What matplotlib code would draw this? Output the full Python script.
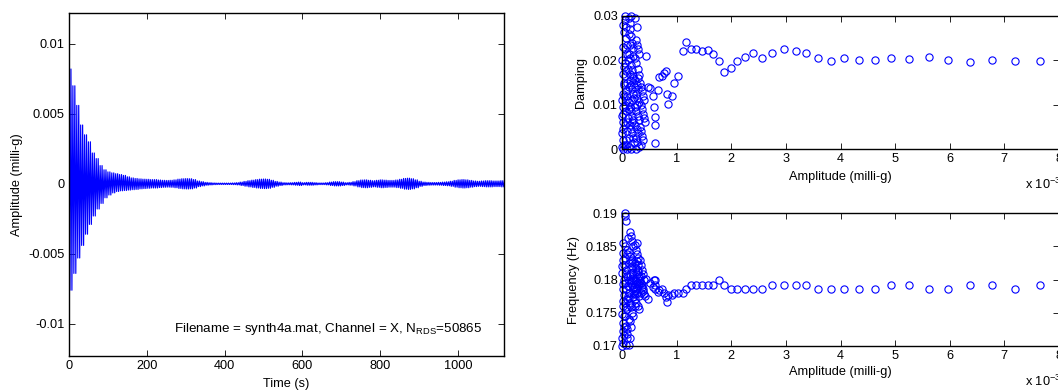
import numpy as np
import matplotlib
matplotlib.use("Agg")
import matplotlib.pyplot as plt

plt.rcParams['font.family'] = ['Liberation Sans', 'DejaVu Sans']
plt.rcParams['font.size'] = 9.2
plt.rcParams['mathtext.fontset'] = 'custom'
plt.rcParams['mathtext.rm'] = 'Liberation Sans'

# Señal en el tiempo: envolvente superior e inferior leída cada 10 s
t_env = np.arange(0, 1121, 10)
env_upper = np.array([
    8.2, 7.0, 5.6, 4.2, 3.5, 3.0, 2.2, 1.8, 1.3, 1.0,
    0.85, 0.78, 0.72, 0.66, 0.6, 0.5, 0.42, 0.38, 0.35, 0.33,
    0.32, 0.3, 0.3, 0.27, 0.25, 0.24, 0.25, 0.28, 0.33, 0.36,
    0.37, 0.36, 0.3, 0.2, 0.15, 0.1, 0.08, 0.06, 0.05, 0.05,
    0.05, 0.05, 0.06, 0.08, 0.12, 0.17, 0.22, 0.26, 0.3, 0.33,
    0.34, 0.32, 0.25, 0.17, 0.12, 0.08, 0.07, 0.08, 0.1, 0.12,
    0.08, 0.1, 0.1, 0.08, 0.06, 0.06, 0.08, 0.12, 0.15, 0.15,
    0.12, 0.08, 0.1, 0.15, 0.22, 0.27, 0.28, 0.25, 0.22, 0.25,
    0.28, 0.26, 0.24, 0.24, 0.27, 0.32, 0.38, 0.4, 0.36, 0.28,
    0.18, 0.12, 0.1, 0.09, 0.09, 0.1, 0.12, 0.14, 0.18, 0.24,
    0.28, 0.3, 0.28, 0.24, 0.2, 0.18, 0.2, 0.22, 0.22, 0.2,
    0.2, 0.22, 0.2]) * 1e-3
env_lower = -np.array([
    7.6, 6.4, 5.3, 4.4, 3.6, 2.9, 2.3, 1.8, 1.4, 1.0,
    0.8, 0.65, 0.55, 0.5, 0.48, 0.45, 0.42, 0.4, 0.36, 0.34,
    0.32, 0.3, 0.3, 0.27, 0.25, 0.24, 0.25, 0.28, 0.33, 0.36,
    0.37, 0.36, 0.3, 0.2, 0.15, 0.1, 0.08, 0.06, 0.05, 0.05,
    0.05, 0.05, 0.06, 0.08, 0.12, 0.17, 0.22, 0.26, 0.3, 0.33,
    0.34, 0.32, 0.25, 0.17, 0.12, 0.08, 0.07, 0.08, 0.1, 0.12,
    0.08, 0.1, 0.1, 0.08, 0.06, 0.06, 0.08, 0.12, 0.15, 0.15,
    0.12, 0.08, 0.1, 0.15, 0.22, 0.27, 0.28, 0.25, 0.22, 0.25,
    0.28, 0.26, 0.24, 0.24, 0.27, 0.32, 0.38, 0.4, 0.36, 0.28,
    0.18, 0.12, 0.1, 0.09, 0.09, 0.1, 0.12, 0.14, 0.18, 0.24,
    0.28, 0.3, 0.28, 0.24, 0.2, 0.18, 0.2, 0.22, 0.22, 0.2,
    0.2, 0.22, 0.2]) * 1e-3

# Modos identificados: amplitud (x 10^-3 milli-g), amortiguamiento, frecuencia
amplitude = [
    0.00, 0.01, 0.00, 0.02, 0.01, 0.00, 0.02, 0.01, 0.00, 0.02,
    0.01, 0.03, 0.02, 0.03, 0.00, 0.01, 0.03, 0.02, 0.04, 0.03,
    0.05, 0.06, 0.08, 0.07, 0.09, 0.10, 0.05, 0.11, 0.06, 0.09,
    0.12, 0.07, 0.10, 0.05, 0.08, 0.11, 0.06, 0.09, 0.12, 0.07,
    0.10, 0.08, 0.11, 0.06, 0.12, 0.09, 0.04, 0.10, 0.07, 0.12,
    0.13, 0.15, 0.17, 0.14, 0.16, 0.18, 0.20, 0.13, 0.15, 0.17,
    0.19, 0.21, 0.14, 0.16, 0.18, 0.20, 0.22, 0.13, 0.15, 0.17,
    0.19, 0.21, 0.14, 0.16, 0.18, 0.20, 0.22, 0.13, 0.17, 0.19,
    0.15, 0.21, 0.18, 0.14, 0.20,
    0.24, 0.27, 0.25, 0.28, 0.30, 0.23, 0.26, 0.29, 0.31, 0.24,
    0.27, 0.30, 0.25, 0.28, 0.32, 0.23, 0.26, 0.29, 0.31, 0.24,
    0.27, 0.30, 0.25, 0.28, 0.32, 0.26, 0.29, 0.31, 0.23, 0.27,
    0.33, 0.35, 0.37, 0.39, 0.41, 0.34, 0.36, 0.38, 0.40, 0.42,
    0.33, 0.35, 0.37, 0.39, 0.34,
    0.44, 0.47, 0.52, 0.57, 0.58, 0.61, 0.60, 0.60, 0.65, 0.68,
    0.73, 0.76, 0.81, 0.82, 0.85, 0.91, 0.96, 1.02,
    1.11, 1.18, 1.27, 1.36, 1.46, 1.58, 1.67, 1.78, 1.87, 1.99,
    2.11, 2.25, 2.40, 2.57, 2.75, 2.96, 3.18, 3.37, 3.58, 3.82,
    4.07, 4.34, 4.64, 4.93, 5.26, 5.62, 5.97, 6.37, 6.77, 7.20,
    7.66]
damping = [
    0.0005, 0.0020, 0.0035, 0.0060, 0.0080, 0.0110, 0.0125, 0.0170, 0.0200, 0.0230,
    0.0280, 0.0010, 0.0095, 0.0150, 0.0075, 0.0045, 0.0185, 0.0000, 0.0265, 0.0120,
    0.0300, 0.0290, 0.0275, 0.0250, 0.0235, 0.0215, 0.0195, 0.0180, 0.0165, 0.0150,
    0.0140, 0.0130, 0.0110, 0.0100, 0.0085, 0.0070, 0.0055, 0.0040, 0.0025, 0.0010,
    0.0000, 0.0020, 0.0200, 0.0225, 0.0260, 0.0120, 0.0145, 0.0060, 0.0175, 0.0090,
    0.0295, 0.0285, 0.0300, 0.0270, 0.0255, 0.0240, 0.0228, 0.0215, 0.0205, 0.0190,
    0.0178, 0.0165, 0.0155, 0.0145, 0.0135, 0.0125, 0.0115, 0.0105, 0.0095, 0.0085,
    0.0075, 0.0065, 0.0055, 0.0045, 0.0035, 0.0025, 0.0015, 0.0005, 0.0000, 0.0110,
    0.0170, 0.0210, 0.0060, 0.0235, 0.0160,
    0.0295, 0.0275, 0.0245, 0.0235, 0.0225, 0.0205, 0.0195, 0.0180, 0.0168, 0.0155,
    0.0145, 0.0135, 0.0125, 0.0115, 0.0105, 0.0095, 0.0085, 0.0075, 0.0065, 0.0055,
    0.0045, 0.0035, 0.0025, 0.0015, 0.0005, 0.0000, 0.0160, 0.0215, 0.0140, 0.0100,
    0.0150, 0.0140, 0.0130, 0.0120, 0.0110, 0.0100, 0.0090, 0.0080, 0.0070, 0.0060,
    0.0050, 0.0040, 0.0030, 0.0020, 0.0010,
    0.0210, 0.0139, 0.0137, 0.0120, 0.0095, 0.0073, 0.0054, 0.0013, 0.0132, 0.0162,
    0.0165, 0.0171, 0.0176, 0.0123, 0.0101, 0.0120, 0.0148, 0.0165,
    0.0221, 0.0242, 0.0225, 0.0225, 0.0220, 0.0223, 0.0214, 0.0198, 0.0173, 0.0182,
    0.0199, 0.0208, 0.0216, 0.0205, 0.0216, 0.0225, 0.0222, 0.0217, 0.0205, 0.0198,
    0.0205, 0.0201, 0.0201, 0.0205, 0.0203, 0.0208, 0.0201, 0.0197, 0.0201, 0.0198,
    0.0199]
frequency = [
    0.1700, 0.1705, 0.1712, 0.1722, 0.1735, 0.1748, 0.1768, 0.1785, 0.1810, 0.1830,
    0.1855, 0.1745, 0.1760, 0.1800, 0.1820, 0.1840, 0.1777, 0.1793, 0.1716, 0.1728,
    0.1900, 0.1895, 0.1888, 0.1702, 0.1712, 0.1725, 0.1745, 0.1862, 0.1850, 0.1838,
    0.1825, 0.1815, 0.1805, 0.1795, 0.1785, 0.1775, 0.1765, 0.1755, 0.1740, 0.1730,
    0.1718, 0.1808, 0.1790, 0.1832, 0.1780, 0.1770, 0.1822, 0.1845, 0.1758, 0.1798,
    0.1702, 0.1712, 0.1728, 0.1872, 0.1865, 0.1858, 0.1850, 0.1842, 0.1835, 0.1828,
    0.1820, 0.1812, 0.1805, 0.1798, 0.1792, 0.1785, 0.1778, 0.1772, 0.1765, 0.1758,
    0.1750, 0.1745, 0.1738, 0.1795, 0.1810, 0.1802, 0.1788, 0.1780, 0.1818, 0.1830,
    0.1762, 0.1800, 0.1825, 0.1808, 0.1773,
    0.1852, 0.1855, 0.1845, 0.1838, 0.1832, 0.1825, 0.1818, 0.1812, 0.1805, 0.1800,
    0.1795, 0.1790, 0.1785, 0.1780, 0.1775, 0.1770, 0.1765, 0.1760, 0.1755, 0.1782,
    0.1808, 0.1815, 0.1798, 0.1787, 0.1793, 0.1778, 0.1822, 0.1802, 0.1760, 0.1828,
    0.1830, 0.1822, 0.1815, 0.1808, 0.1800, 0.1795, 0.1788, 0.1782, 0.1778, 0.1775,
    0.1798, 0.1805, 0.1792, 0.1785, 0.1780,
    0.1801, 0.1771, 0.1794, 0.1789, 0.1799, 0.1799, 0.1791, 0.1786, 0.1781, 0.1784,
    0.1786, 0.1779, 0.1773, 0.1766, 0.1776, 0.1776, 0.1779, 0.1779,
    0.1780, 0.1785, 0.1791, 0.1791, 0.1791, 0.1791, 0.1791, 0.1799, 0.1791, 0.1785,
    0.1785, 0.1785, 0.1785, 0.1785, 0.1791, 0.1791, 0.1791, 0.1791, 0.1785, 0.1785,
    0.1785, 0.1785, 0.1785, 0.1791, 0.1791, 0.1785, 0.1785, 0.1791, 0.1791, 0.1785,
    0.1791]

W, H = 1058, 390
fig = plt.figure(figsize=(W / 100, H / 100), dpi=100)


def px_axes(x0, y0, x1, y1):
    return fig.add_axes([x0 / W, 1 - y1 / H, (x1 - x0) / W, (y1 - y0) / H])


def style(ax):
    for s in ax.spines.values():
        s.set_linewidth(1.0)
    ax.tick_params(direction='in', top=True, right=True, length=4, width=0.6,
                   labelsize=9.2, pad=3)


# Panel izquierdo: señal (dos ciclos por cada muestra de envolvente)
ax1 = px_axes(69, 13, 504, 356)
x_line = np.column_stack([t_env, t_env + 2.5, t_env + 5, t_env + 7.5]).ravel()
y_line = np.column_stack([env_upper, env_lower, env_upper, env_lower]).ravel()
ax1.plot(x_line, y_line, color='blue', lw=0.85)
ax1.set_xlim(0, 1118)
ax1.set_ylim(-0.0123, 0.0122)
ax1.set_xticks([0, 200, 400, 600, 800, 1000])
ax1.set_yticks([-0.01, -0.005, 0, 0.005, 0.01])
ax1.set_yticklabels(['-0.01', '-0.005', '0', '0.005', '0.01'])
ax1.set_xlabel('Time (s)', labelpad=4)
ax1.set_ylabel('Amplitude (milli-g)')
ax1.text(1062, -0.01057, r'Filename = synth4a.mat, Channel = X, N$_{\mathrm{RDS}}$=50865',
         ha='right', va='baseline', fontsize=9.6)
style(ax1)

# Panel superior derecho: amortiguamiento
ax2 = px_axes(622, 16, 1059, 149)
ax2.plot(amplitude, damping, 'o', mfc='none', mec='blue', ms=5.2, mew=0.8, clip_on=False)
ax2.set_xlim(0, 8)
ax2.set_ylim(0, 0.03)
ax2.set_xticks(range(9))
ax2.set_yticks([0, 0.01, 0.02, 0.03])
ax2.set_yticklabels(['0', '0.01', '0.02', '0.03'])
ax2.set_xlabel('Amplitude (milli-g)', labelpad=4)
ax2.set_ylabel('Damping')
ax2.text(1025 / W, 1 - 184 / H, r'x 10$^{-3}$', transform=fig.transFigure,
         ha='left', va='center')
style(ax2)

# Panel inferior derecho: frecuencia
ax3 = px_axes(622, 213, 1059, 346)
ax3.plot(amplitude, frequency, 'o', mfc='none', mec='blue', ms=5.2, mew=0.8, clip_on=False)
ax3.set_xlim(0, 8)
ax3.set_ylim(0.17, 0.19)
ax3.set_xticks(range(9))
ax3.set_yticks([0.17, 0.175, 0.18, 0.185, 0.19])
ax3.set_yticklabels(['0.17', '0.175', '0.18', '0.185', '0.19'])
ax3.set_xlabel('Amplitude (milli-g)', labelpad=3)
ax3.set_ylabel('Frequency (Hz)')
ax3.text(1025 / W, 1 - 381 / H, r'x 10$^{-3}$', transform=fig.transFigure,
         ha='left', va='center')
style(ax3)

fig.savefig('out.png', dpi=100)
